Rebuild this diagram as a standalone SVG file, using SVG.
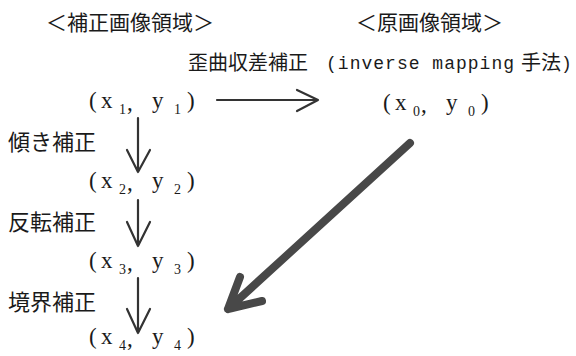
<svg xmlns="http://www.w3.org/2000/svg" width="576" height="356" viewBox="0 0 576 356">
<style>
.jp{font-family:"Noto Sans CJK JP","Noto Sans CJK SC",sans-serif;fill:#1a1a1a}
.t{font-size:21px}
.st{font-size:20px}
.lb{font-size:22px}
.mono{font-family:"Liberation Mono","DejaVu Sans Mono",monospace;font-size:18px;fill:#1a1a1a}
.c{font-family:"Liberation Serif","Times New Roman",serif;font-size:23px;fill:#1a1a1a}
.s{font-family:"Liberation Serif","Times New Roman",serif;font-size:14px;fill:#1a1a1a}
.ln{fill:none;stroke:#333;stroke-width:2.2;stroke-linecap:round;stroke-linejoin:round}
.big{fill:none;stroke:#484848;stroke-width:8;stroke-linecap:round;stroke-linejoin:round}
</style>
<rect width="576" height="356" fill="#fff"/>
<g id="title-corrected"><text class="jp t" x="46" y="30">＜補正画像領域＞</text></g>
<g id="title-original"><text class="jp t" x="356" y="30">＜原画像領域＞</text></g>
<g id="label-mapping">
<text class="jp st" x="188" y="70">歪曲収差補正</text>
<text class="mono" x="326" y="69" textLength="188" lengthAdjust="spacing">(inverse mapping</text>
<text class="jp st" x="521" y="70">手法</text>
<text class="mono" x="561" y="69">)</text>
</g>
<g id="p1">
<text class="c" x="89" y="108">(</text><text class="c" x="101" y="108">x</text><text class="s" x="119" y="114">1</text><text class="c" x="127" y="110">,</text>
<text class="c" x="152" y="108">y</text><text class="s" x="174" y="114">1</text><text class="c" x="187" y="108">)</text>
</g>
<g id="p0">
<text class="c" x="383" y="110">(</text><text class="c" x="395" y="110">x</text><text class="s" x="413" y="116">0</text><text class="c" x="421" y="112">,</text>
<text class="c" x="446" y="110">y</text><text class="s" x="468" y="116">0</text><text class="c" x="481" y="110">)</text>
</g>
<g id="p2">
<text class="c" x="89" y="188">(</text><text class="c" x="101" y="188">x</text><text class="s" x="119" y="194">2</text><text class="c" x="127" y="190">,</text>
<text class="c" x="152" y="188">y</text><text class="s" x="174" y="194">2</text><text class="c" x="187" y="188">)</text>
</g>
<g id="p3">
<text class="c" x="89" y="268">(</text><text class="c" x="101" y="268">x</text><text class="s" x="119" y="274">3</text><text class="c" x="127" y="270">,</text>
<text class="c" x="152" y="268">y</text><text class="s" x="174" y="274">3</text><text class="c" x="187" y="268">)</text>
</g>
<g id="p4">
<text class="c" x="89" y="344">(</text><text class="c" x="101" y="344">x</text><text class="s" x="119" y="350">4</text><text class="c" x="127" y="346">,</text>
<text class="c" x="152" y="344">y</text><text class="s" x="174" y="350">4</text><text class="c" x="187" y="344">)</text>
</g>
<g id="label-tilt"><text class="jp lb" x="8" y="150">傾き補正</text></g>
<g id="label-flip"><text class="jp lb" x="8" y="230">反転補正</text></g>
<g id="label-border"><text class="jp lb" x="8" y="310">境界補正</text></g>
<g id="connectors">
<path class="ln" d="M217 100H318M297 90L318 100L297 111"/>
<path class="ln" d="M138 118V172M127 150L138 172L150 150"/>
<path class="ln" d="M138 200V246M127 222L138 246L150 222"/>
<path class="ln" d="M138 278V333M127 309L138 333L150 309"/>
<path class="big" d="M410 143L228 309M240 277L228 309L262 301"/>
</g>
</svg>
